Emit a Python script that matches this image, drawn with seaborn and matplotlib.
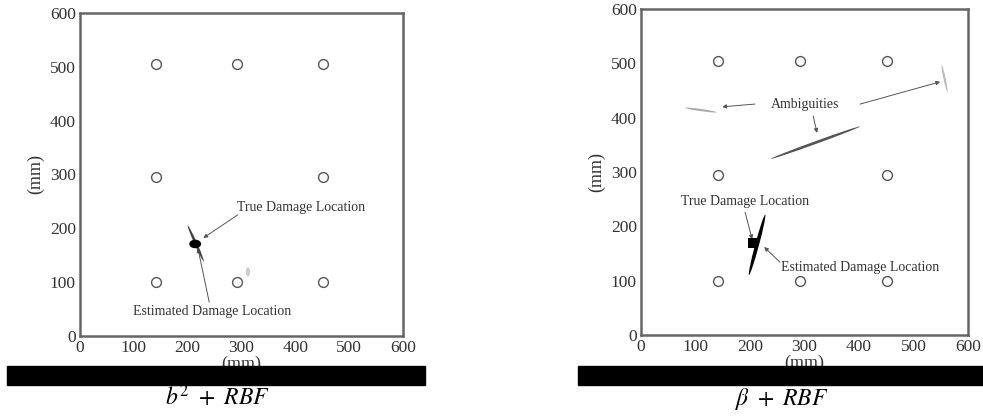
import numpy as np
import pandas as pd
import matplotlib
matplotlib.use("Agg")
import matplotlib.pyplot as plt
from matplotlib.patches import Ellipse, Rectangle
import seaborn as sns

sns.set_theme(style="white")
plt.rcParams['font.family'] = ['Liberation Serif', 'DejaVu Serif']
plt.rcParams['mathtext.fontset'] = 'stix'

# ---------------- data ----------------
sensor_x = [142, 292, 452, 142, 452, 142, 292, 452]
sensor_y = [505, 505, 505, 295, 295, 100, 100, 100]

ticks = [0, 100, 200, 300, 400, 500, 600]

# left panel (b^2 + RBF): ellipses  (cx, cy, width, height, angle, color)
left_cx = [215, 214, 312]
left_cy = [172, 171, 119]
left_w = [73, 22, 8]
left_h = [5, 16, 17]
left_ang = [-66, 0, 0]
left_col = ['#444444', '#000000', '#cccccc']

# right panel (beta + RBF)
right_cx = [213, 110, 320, 557]
right_cy = [166, 414, 354, 472]
right_w = [115, 58, 175, 51]
right_h = [7, 4, 5, 4]
right_ang = [75, -8, 20, 102]
right_col = ['#000000', '#aaaaaa', '#555555', '#bbbbbb']
right_sq_x = [205]
right_sq_y = [170]

# annotations: text, text pos, arrow start, arrow end
left_labels = ['True Damage Location', 'Estimated Damage Location']
left_text_xy = [(292, 238), (98, 46)]
left_arrow_from = [(293, 225), (240, 63)]
left_arrow_to = [(229, 182), (219, 163)]

right_labels = ['True Damage Location', 'Estimated Damage Location']
right_text_xy = [(73, 245), (257, 125)]
right_arrow_from = [(191, 226), (255, 134)]
right_arrow_to = [(204, 176), (226, 162)]

amb_label = 'Ambiguities'
amb_text_xy = (301, 424)
amb_arrow_from = [(209, 425), (316, 403), (402, 425)]
amb_arrow_to = [(149, 420), (323, 372), (549, 466)]

sensors = pd.DataFrame({'x': sensor_x, 'y': sensor_y})

fig = plt.figure(figsize=(9.83, 4.17), dpi=100)
axL = fig.add_axes([80 / 983, 1 - 336 / 417, 323 / 983, 323 / 417])
axR = fig.add_axes([641 / 983, 1 - 335 / 417, 327 / 983, 326 / 417])

frame_col = '#666666'
text_col = '#333333'
arrow_kw = dict(arrowstyle='-|>', color='#555555', lw=0.7, mutation_scale=6,
                shrinkA=0, shrinkB=0)


def setup(ax):
    sns.scatterplot(data=sensors, x='x', y='y', ax=ax, marker='o', s=50,
                    facecolor='white', edgecolor='#555555', linewidth=1.0,
                    zorder=3)
    ax.set_xlim(0, 600)
    ax.set_ylim(0, 600)
    ax.set_xticks(ticks)
    ax.set_yticks(ticks)
    ax.set_xticklabels([str(t) for t in ticks])
    ax.set_yticklabels([str(t) for t in ticks])
    ax.tick_params(length=0, pad=3, labelsize=12.5, colors=text_col)
    ax.set_xlabel('(mm)', fontsize=13, color=text_col, labelpad=0)
    ax.set_ylabel('(mm)', fontsize=13, color=text_col, labelpad=4)
    for s in ax.spines.values():
        s.set_color(frame_col)
        s.set_linewidth(1.8)


setup(axL)
setup(axR)

for cx, cy, w, h, a, c in zip(left_cx, left_cy, left_w, left_h, left_ang, left_col):
    axL.add_patch(Ellipse((cx, cy), w, h, angle=a, color=c, lw=0, zorder=4))
for lab, txy, af, at in zip(left_labels, left_text_xy, left_arrow_from, left_arrow_to):
    axL.text(txy[0], txy[1], lab, fontsize=10, color=text_col, ha='left', va='center')
    axL.annotate('', xy=at, xytext=af, arrowprops=arrow_kw)

for cx, cy, w, h, a, c in zip(right_cx, right_cy, right_w, right_h, right_ang, right_col):
    axR.add_patch(Ellipse((cx, cy), w, h, angle=a, color=c, lw=0, zorder=4))
sns.scatterplot(x=right_sq_x, y=right_sq_y, ax=axR, marker='s', s=60,
                color='black', linewidth=0, zorder=5)
for lab, txy, af, at in zip(right_labels, right_text_xy, right_arrow_from, right_arrow_to):
    axR.text(txy[0], txy[1], lab, fontsize=10, color=text_col, ha='left', va='center')
    axR.annotate('', xy=at, xytext=af, arrowprops=arrow_kw)
axR.text(amb_text_xy[0], amb_text_xy[1], amb_label, fontsize=10, color=text_col,
         ha='center', va='center')
for af, at in zip(amb_arrow_from, amb_arrow_to):
    axR.annotate('', xy=at, xytext=af, arrowprops=arrow_kw)

# black bars under the panels
fig.add_artist(Rectangle((7 / 983, 1 - 385 / 417), 418 / 983, 19 / 417,
                         transform=fig.transFigure, color='black', zorder=10))
fig.add_artist(Rectangle((578 / 983, 1 - 385 / 417), 405 / 983, 19 / 417,
                         transform=fig.transFigure, color='black', zorder=10))

fig.text(217 / 983, 1 - 405 / 417, r'$b^2\ +\ RBF$', fontsize=17, ha='center',
         va='baseline', color='black')
fig.text(782 / 983, 1 - 405 / 417, r'$\beta\ +\ RBF$', fontsize=17, ha='center',
         va='baseline', color='black')

fig.savefig('out.png', dpi=100, facecolor='white')
